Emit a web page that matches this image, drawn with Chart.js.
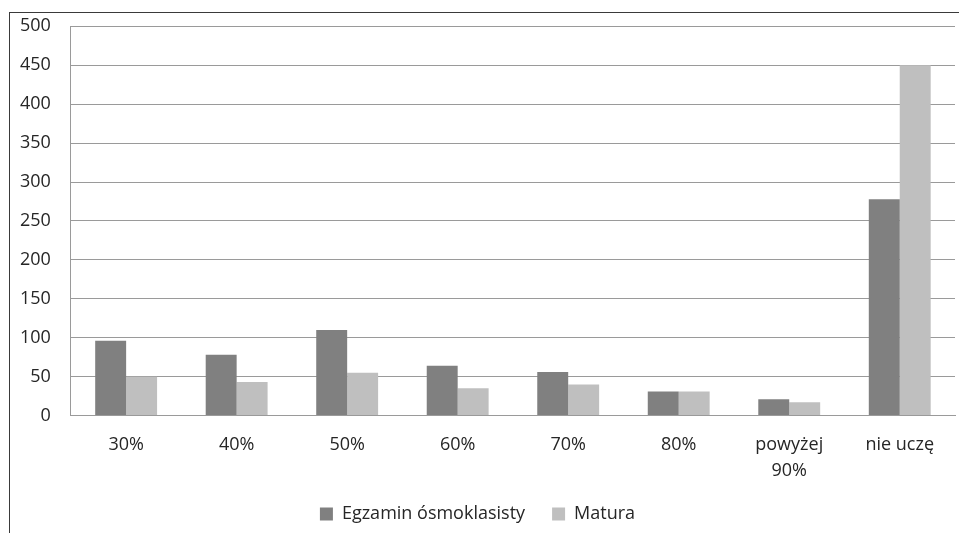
<!DOCTYPE html>
<html>
<head>
    <meta charset="utf-8">
    <title>Egzamin ósmoklasisty / Matura</title>
    <script src="https://cdn.jsdelivr.net/npm/chart.js"></script>
    <style>
        body { margin: 0; background: #fff; }
        #frame { position: absolute; left: 9px; top: 12px; width: 960px; height: 530px;
                 border-top: 1px solid #3a3a3a; border-left: 1px solid #3a3a3a; }
        #wrap { position: absolute; left: 0; top: 0; width: 959px; height: 533px; }
    </style>
</head>
<body>
<div id="frame"></div>
<div id="wrap"><canvas id="chart"></canvas></div>
<script>
    var categories = ['30%', '40%', '50%', '60%', '70%', '80%', ['powyżej', '90%'], 'nie uczę'];
    var egzamin = [96, 78, 110, 64, 56, 31, 21, 278];
    var matura = [50, 43, 55, 35, 40, 31, 17, 450];
    var seriesNames = ['Egzamin ósmoklasisty', 'Matura'];

    var textColor = '#262626';
    var gridColor = '#9a9a9a';
    var font = { family: "'Open Sans', sans-serif", size: 18 };
    // small lineHeight on y labels only trims the top padding chart.js adds
    var yFont = { family: "'Open Sans', sans-serif", size: 18, lineHeight: 0.7 };
    var xFont = { family: "'Open Sans', sans-serif", size: 18, lineHeight: 1.4 };

    var ctx = document.getElementById('chart').getContext('2d');
    var chart = new Chart(ctx, {
        type: 'bar',
        data: {
            labels: categories,
            datasets: [{
                label: seriesNames[0],
                data: egzamin,
                backgroundColor: '#808080',
                borderWidth: 0,
                categoryPercentage: 0.56,
                barPercentage: 1.0
            }, {
                label: seriesNames[1],
                data: matura,
                backgroundColor: '#bfbfbf',
                borderWidth: 0,
                categoryPercentage: 0.56,
                barPercentage: 1.0
            }]
        },
        options: {
            responsive: true,
            maintainAspectRatio: false,
            animation: false,
            layout: {
                padding: { left: 0, right: 4, top: 5, bottom: 0 }
            },
            scales: {
                x: {
                    grid: { display: false, drawTicks: false },
                    border: { color: gridColor, width: 1 },
                    ticks: { color: textColor, font: xFont, padding: 17, maxRotation: 0 },
                    // let the legend's top padding overlap the empty space under the labels
                    afterFit: function(scale) { scale.height -= 22; }
                },
                y: {
                    min: 0,
                    max: 500,
                    grid: { color: gridColor, lineWidth: 1, drawTicks: false },
                    border: { color: gridColor, width: 1 },
                    ticks: { stepSize: 50, color: textColor, font: yFont, padding: 20 }
                }
            },
            plugins: {
                legend: {
                    position: 'bottom',
                    labels: {
                        color: textColor,
                        font: font,
                        boxWidth: 13,
                        boxHeight: 13,
                        padding: 27
                    }
                },
                tooltip: { enabled: false }
            }
        }
    });
</script>
</body>
</html>
